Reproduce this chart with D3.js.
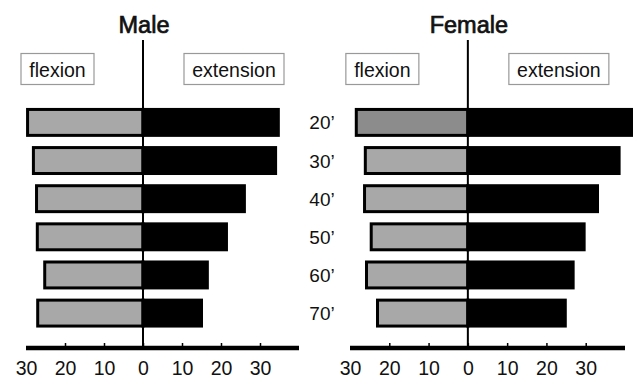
<!DOCTYPE html>
<html><head><meta charset="utf-8">
<script src="https://cdn.jsdelivr.net/npm/d3@7"></script>
<style>body{margin:0;background:#fff}svg{display:block}text{font-family:"Liberation Sans",Arial,sans-serif}</style>
</head><body><svg id="c" width="633" height="379"></svg>
<script>
const ages = ["20’","30’","40’","50’","60’","70’"];
const maleFlexion   = [29.6, 28.1, 27.3, 27.1, 25.2, 27.0];
const maleExtension = [34.7, 34.0, 26.0, 21.4, 16.5, 15.0];
const femaleFlexion   = [28.4, 26.1, 26.3, 24.6, 25.8, 23.0];
const femaleExtension = [43.0, 38.5, 33.0, 29.6, 26.8, 24.8];
const tickValues = [-30, -20, -10, 0, 10, 20, 30];
const panels = [
  {title:"Male", flex: maleFlexion, ext: maleExtension, range:[26,299]},
  {title:"Female", flex: femaleFlexion, ext: femaleExtension, range:[350,625]}
];

const svg = d3.select("#c");
const y = d3.scaleBand().domain(ages).range([98, 337.5]).paddingInner(0.32).paddingOuter(0.3);
const axisY = 348;

panels.forEach((p, pi) => {
  const x = d3.scaleLinear().domain([-30, 40]).range(p.range);
  const g = svg.append("g");
  const x0 = x(0);

  g.selectAll("rect.flex").data(ages).join("rect")
    .attr("x", (d,i) => x(-p.flex[i])).attr("y", d => y(d))
    .attr("width", (d,i) => x0 - x(-p.flex[i])).attr("height", y.bandwidth())
    .attr("fill", (d,i) => (pi === 1 && i === 0) ? "#8c8c8c" : "#a8a8a8")
    .attr("stroke", "#000").attr("stroke-width", 3);
  g.selectAll("rect.ext").data(ages).join("rect")
    .attr("x", x0).attr("y", d => y(d))
    .attr("width", (d,i) => x(p.ext[i]) - x0).attr("height", y.bandwidth())
    .attr("fill", "#000").attr("stroke", "#000").attr("stroke-width", 3);

  g.append("line").attr("x1", x0).attr("x2", x0).attr("y1", 40).attr("y2", axisY)
    .attr("stroke", "#000").attr("stroke-width", 2);

  const ax = g.append("g").attr("transform", `translate(0,${axisY})`)
    .call(d3.axisBottom(x).tickValues(tickValues).tickFormat(d => Math.abs(d))
      .tickSizeInner(-5).tickSizeOuter(0).tickPadding(13));
  ax.select(".domain").attr("stroke-width", 4.5).attr("d", `M${p.range[0]},0H${p.range[1]}`);
  ax.selectAll(".tick line").attr("stroke-width", 1.5);
  ax.selectAll(".tick").filter(d => d === -30).select("line").remove();
  ax.selectAll(".tick text").attr("font-size", 19.5).attr("fill", "#111")
    .attr("font-family", '"Liberation Sans",Arial,sans-serif');

  g.append("text").attr("x", x0 + 1).attr("y", 33).attr("text-anchor", "middle")
    .attr("font-size", 23.5).attr("fill", "#111").attr("stroke", "#111").attr("stroke-width", 0.7)
    .text(p.title);

  const boxes = [
    {label:"flexion", x1: x0 - 122, x2: x0 - 49},
    {label:"extension", x1: x0 + 41, x2: x0 + 141}
  ];
  boxes.forEach(b => {
    g.append("rect").attr("x", b.x1).attr("y", 53.5).attr("width", b.x2 - b.x1).attr("height", 31)
      .attr("fill", "#fff").attr("stroke", "#999").attr("stroke-width", 1.2);
    g.append("text").attr("x", (b.x1 + b.x2) / 2).attr("y", 76.5).attr("text-anchor", "middle")
      .attr("font-size", 19.5).attr("fill", "#111").text(b.label);
  });
});

svg.selectAll("text.age").data(ages).join("text").attr("class", "age")
  .attr("x", 322).attr("y", d => y(d) + y.bandwidth() / 2 + 7)
  .attr("text-anchor", "middle").attr("font-size", 19).attr("fill", "#111").text(d => d);
</script></body></html>
